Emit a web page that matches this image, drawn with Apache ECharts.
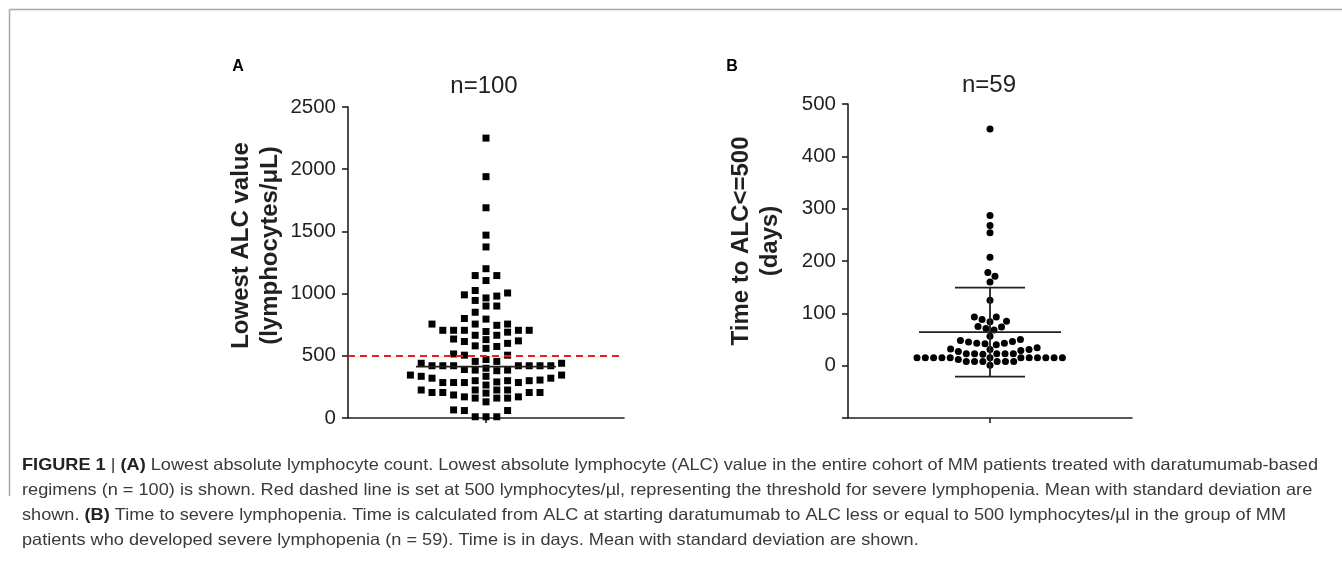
<!DOCTYPE html>
<html>
<head>
<meta charset="utf-8">
<script src="https://cdn.jsdelivr.net/npm/echarts@6/dist/echarts.min.js"></script>
<style>
html,body{margin:0;padding:0;background:#fff;}
#main{width:1342px;height:566px;}
</style>
</head>
<body>
<div id="main"></div>
<script>
// ---------------- DATA ----------------
// Panel A: lowest ALC value (lymphocytes/uL), n = 100
const alcValues = [
  2250, 1940, 1690, 1470, 1375, 1200, 1145, 1105, 1145,
  1025, 965, 900, 990, 980, 900, 1005, 945, 850,
  795, 800, 705, 705, 745, 665, 600, 755, 690, 620, 560, 505,
  705, 635, 575, 515, 755, 665, 580, 705, 615, 755, 695, 630, 705, 505,
  420, 335, 205,
  440, 300, 185,
  455, 385, 300, 205,
  420, 300, 225, 160,
  420, 285, 170,
  420, 345, 285, 225, 160,
  390, 320, 265, 205, 130,
  420, 305, 170,
  440, 380, 285, 225, 160,
  420, 345, 285, 225,
  455, 385, 320, 205,
  470, 400, 290,
  420, 335, 200,
  10, 10, 10, 60, 65, 60
];
// Panel B: time to ALC <= 500 (days), n = 59
const daysValues = [
  452, 287, 268, 254, 207, 178, 171, 160, 125,
  93, 84, 85, 88, 93,
  71, 74, 75, 68,
  50, 46, 43, 42, 40, 48, 45, 56, 43,
  29, 32, 34, 31, 27, 31,
  23, 23, 23, 23, 23, 22,
  15, 15, 15, 15, 15, 8, 8, 8, 8, 15, 8, 8, 15, 15, 15, 15, 15, 15,
  1, 12
];
const yTicksA = [0, 500, 1000, 1500, 2000, 2500];
const yTicksB = [0, 100, 200, 300, 400, 500];
const yMinB = -100;
const thresholdA = 500;
const meanA = 413;
const meanB = 64;
const sdB = 85;
const titleA = 'n=100';
const titleB = 'n=59';
const captionLines = [
  '{b|FIGURE 1} | {b|(A)} Lowest absolute lymphocyte count. Lowest absolute lymphocyte (ALC) value in the entire cohort of MM patients treated with daratumumab-based',
  'regimens (n = 100) is shown. Red dashed line is set at 500 lymphocytes/\u00b5l, representing the threshold for severe lymphopenia. Mean with standard deviation are',
  'shown. {b|(B)} Time to severe lymphopenia. Time is calculated from ALC at starting daratumumab to ALC less or equal to 500 lymphocytes/\u00b5l in the group of MM',
  'patients who developed severe lymphopenia (n = 59). Time is in days. Mean with standard deviation are shown.'
];

// ---------------- CHART ----------------
const FONT = '"Liberation Sans", Arial, Helvetica, sans-serif';
const INK = '#231f20';
const chart = echarts.init(document.getElementById('main'));

function axisY(ticks, min, name, pad) {
  return {
    type: 'value',
    min: min,
    max: ticks[ticks.length - 1],
    interval: ticks[1] - ticks[0],
    axisLine: { show: true, onZero: false, lineStyle: { color: INK, width: 1.6 } },
    axisTick: { show: true, length: 6, lineStyle: { color: INK, width: 1.6 } },
    axisLabel: {
      color: INK, fontSize: 20.5, fontFamily: FONT, margin: 12,
      formatter: v => (v < ticks[0] ? '' : String(v))
    },
    splitLine: { show: false },
    name: name,
    nameLocation: 'middle',
    nameRotate: 90,
    nameGap: 63,
    nameTextStyle: {
      color: INK, fontSize: 24, fontWeight: 'bold', fontFamily: FONT,
      lineHeight: 29, padding: [0, 0, 0, pad]
    }
  };
}
function axisX(gridIndex, half) {
  return {
    gridIndex: gridIndex,
    type: 'value',
    min: -half, max: half,
    axisLine: { show: true, onZero: false, lineStyle: { color: INK, width: 1.6 } },
    axisTick: { show: true, customValues: [0], length: 5, lineStyle: { color: INK, width: 1.6 } },
    axisLabel: { show: false },
    splitLine: { show: false }
  };
}
function meanSdRender(halfMean, halfCap) {
  return function (params, api) {
    const x = api.value(0), m = api.value(1), sd = api.value(2);
    const c = api.coord([x, m]);
    const st = { stroke: INK, lineWidth: 1.8 };
    const children = [{ type: 'line', shape: { x1: c[0] - halfMean, y1: c[1], x2: c[0] + halfMean, y2: c[1] }, style: st }];
    if (sd > 0) {
      const t = api.coord([x, m + sd]), b = api.coord([x, m - sd]);
      children.push({ type: 'line', shape: { x1: t[0], y1: t[1], x2: b[0], y2: b[1] }, style: st });
      children.push({ type: 'line', shape: { x1: t[0] - halfCap, y1: t[1], x2: t[0] + halfCap, y2: t[1] }, style: st });
      children.push({ type: 'line', shape: { x1: b[0] - halfCap, y1: b[1], x2: b[0] + halfCap, y2: b[1] }, style: st });
    }
    return { type: 'group', children: children };
  };
}

const captionGraphics = captionLines.map((t, i) => ({
  type: 'text', x: 22, y: 465 + i * 25, scaleX: 1.1,
  style: {
    text: t, fill: '#3a3a3a', fontSize: 16.5, fontFamily: FONT, verticalAlign: 'middle',
    rich: { b: { fontWeight: 'bold', fontSize: 16.5, fontFamily: FONT, fill: '#222' } }
  }
}));

chart.setOption({
  animation: false,
  backgroundColor: '#fff',
  grid: [
    { left: 348, top: 107, width: 276, height: 311 },
    { left: 848, top: 104, width: 284, height: 314 }
  ],
  xAxis: [axisX(0, 138), axisX(1, 142)],
  yAxis: [
    Object.assign({ gridIndex: 0 }, axisY(yTicksA, yTicksA[0], 'Lowest ALC value\n(lymphocytes/\u03bcL)', 34)),
    Object.assign({ gridIndex: 1 }, axisY(yTicksB, yMinB, 'Time to ALC<=500\n(days)', 40))
  ],
  graphic: [
    { type: 'line', shape: { x1: 9.5, y1: 9.5, x2: 1342, y2: 9.5 }, style: { stroke: '#a8a8a8', lineWidth: 1.5 } },
    { type: 'line', shape: { x1: 9.5, y1: 9.5, x2: 9.5, y2: 496 }, style: { stroke: '#a8a8a8', lineWidth: 1.5 } },
    { type: 'text', x: 238, y: 67, style: { text: 'A', fontSize: 16, fontWeight: 'bold', fontFamily: FONT, fill: '#000', align: 'center', verticalAlign: 'middle' } },
    { type: 'text', x: 732, y: 67, style: { text: 'B', fontSize: 16, fontWeight: 'bold', fontFamily: FONT, fill: '#000', align: 'center', verticalAlign: 'middle' } },
    { type: 'text', x: 484, y: 86, style: { text: titleA, fontSize: 24, fontFamily: FONT, fill: INK, align: 'center', verticalAlign: 'middle' } },
    { type: 'text', x: 989, y: 85, style: { text: titleB, fontSize: 24, fontFamily: FONT, fill: INK, align: 'center', verticalAlign: 'middle' } }
  ].concat(captionGraphics),
  series: []
});

// Beeswarm layout: horizontal offsets computed from the values via the axis scales.
// Collision zone is an ellipse (round) or a rectangle with half-axes gapX / gapY in pixels.
function swarm(values, yAxisIndex, xAxisIndex, gapX, gapY, round) {
  const px0 = chart.convertToPixel({ xAxisIndex: xAxisIndex }, 0);
  const px1 = chart.convertToPixel({ xAxisIndex: xAxisIndex }, 1);
  const unit = px1 - px0;
  const order = values.map((v, i) => i).sort((a, b) => values[a] - values[b]);
  const placed = [];
  const xs = new Array(values.length);
  let flip = -1;
  const need = dy => round ? gapX * Math.sqrt(Math.max(0, 1 - (dy / gapY) * (dy / gapY))) : gapX;
  order.forEach(i => {
    const y = chart.convertToPixel({ yAxisIndex: yAxisIndex }, values[i]);
    const near = placed.filter(p => Math.abs(p.y - y) < gapY);
    const cands = [0];
    near.forEach(p => {
      const d = need(p.y - y);
      cands.push(p.x + d, p.x - d);
    });
    const ok = x => near.every(p => Math.abs(p.x - x) >= need(p.y - y) - 1e-6);
    let best = null;
    cands.forEach(x => {
      if (!ok(x)) return;
      if (best === null || Math.abs(x) < Math.abs(best) - 1e-6 ||
          (Math.abs(Math.abs(x) - Math.abs(best)) < 1e-6 && x * flip > 0)) best = x;
    });
    if (Math.abs(best) > 1e-6) flip = -flip;
    xs[i] = best;
    placed.push({ x: best, y: y });
  });
  return values.map((v, i) => [xs[i] / unit, v]);
}

const dataA = swarm(alcValues, 0, 0, 10.8, 7.5, false);
const dataB = swarm(daysValues, 1, 1, 8.3, 7.2, true);

chart.setOption({
  series: [
    {
      type: 'scatter', xAxisIndex: 0, yAxisIndex: 0,
      symbol: 'rect', symbolSize: 7, itemStyle: { color: '#000', opacity: 1 },
      data: dataA, z: 3,
      markLine: {
        silent: true, symbol: 'none', animation: false,
        label: { show: false },
        lineStyle: { color: '#ee1c24', type: [7, 5], width: 2, opacity: 1 },
        data: [{ yAxis: thresholdA }],
        z: 6
      }
    },
    {
      type: 'custom', xAxisIndex: 0, yAxisIndex: 0, clip: false, z: 4,
      renderItem: meanSdRender(70, 0),
      data: [[0, meanA, 0]]
    },
    {
      type: 'scatter', xAxisIndex: 1, yAxisIndex: 1,
      symbol: 'circle', symbolSize: 7, itemStyle: { color: '#000', opacity: 1 },
      data: dataB, z: 3
    },
    {
      type: 'custom', xAxisIndex: 1, yAxisIndex: 1, clip: false, z: 4,
      renderItem: meanSdRender(71, 35),
      data: [[0, meanB, sdB]]
    }
  ]
});
</script>
</body>
</html>
